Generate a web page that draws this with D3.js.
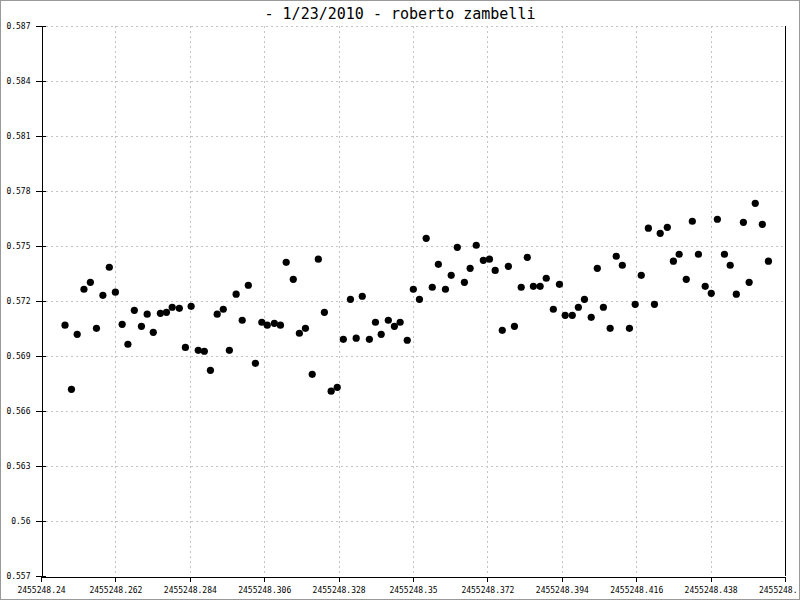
<!DOCTYPE html>
<html>
<head>
<meta charset="utf-8">
<script src="https://cdn.jsdelivr.net/npm/d3@7/dist/d3.min.js"></script>
<style>
  html, body { margin: 0; padding: 0; background: #fff; }
  svg { display: block; }
  text { font-family: "DejaVu Sans Mono", "Liberation Mono", monospace; fill: #000; }
</style>
</head>
<body>
<svg id="chart" width="800" height="600"></svg>
<script>
const title = "- 1/23/2010 - roberto zambelli";

const xTickValues = [2455248.24, 2455248.262, 2455248.284, 2455248.306, 2455248.328, 2455248.35,
  2455248.372, 2455248.394, 2455248.416, 2455248.438, 2455248.46];
const xTickLabels = ["2455248.24", "2455248.262", "2455248.284", "2455248.306", "2455248.328", "2455248.35",
  "2455248.372", "2455248.394", "2455248.416", "2455248.438", "2455248."];
const yTickValues = [0.557, 0.56, 0.563, 0.566, 0.569, 0.572, 0.575, 0.578, 0.581, 0.584, 0.587];
const yTickLabels = ["0.557", "0.56", "0.563", "0.566", "0.569", "0.572", "0.575", "0.578", "0.581", "0.584", "0.587"];

const jd = [
  2455248.2471, 2455248.2490, 2455248.2507, 2455248.2527, 2455248.2546, 2455248.2564, 2455248.2583, 2455248.2602,
  2455248.2620, 2455248.2640, 2455248.2657, 2455248.2676, 2455248.2697, 2455248.2714, 2455248.2732, 2455248.2753,
  2455248.2771, 2455248.2788, 2455248.2809, 2455248.2827, 2455248.2844, 2455248.2865, 2455248.2883, 2455248.2901,
  2455248.2921, 2455248.2939, 2455248.2957, 2455248.2977, 2455248.2995, 2455248.3013, 2455248.3034, 2455248.3053,
  2455248.3069, 2455248.3090, 2455248.3108, 2455248.3125, 2455248.3146, 2455248.3164, 2455248.3182, 2455248.3202,
  2455248.3220, 2455248.3238, 2455248.3258, 2455248.3276, 2455248.3294, 2455248.3315, 2455248.3332, 2455248.3350,
  2455248.3371, 2455248.3389, 2455248.3406, 2455248.3427, 2455248.3445, 2455248.3462, 2455248.3483, 2455248.3501,
  2455248.3519, 2455248.3539, 2455248.3557, 2455248.3575, 2455248.3596, 2455248.3613, 2455248.3631, 2455248.3652,
  2455248.3669, 2455248.3687, 2455248.3708, 2455248.3726, 2455248.3743, 2455248.3764, 2455248.3782, 2455248.3800,
  2455248.3820, 2455248.3838, 2455248.3856, 2455248.3876, 2455248.3894, 2455248.3915, 2455248.3933, 2455248.3950,
  2455248.3971, 2455248.3989, 2455248.4007, 2455248.4027, 2455248.4045, 2455248.4063, 2455248.4083, 2455248.4101,
  2455248.4119, 2455248.4140, 2455248.4157, 2455248.4175, 2455248.4196, 2455248.4214, 2455248.4231, 2455248.4252,
  2455248.4270, 2455248.4287, 2455248.4308, 2455248.4326, 2455248.4344, 2455248.4364, 2455248.4382, 2455248.4400,
  2455248.4421, 2455248.4438, 2455248.4456, 2455248.4477, 2455248.4494, 2455248.4512, 2455248.4533, 2455248.4551
];

const mag = [
  0.57068, 0.56718, 0.57018, 0.57264, 0.57302, 0.57051, 0.57231, 0.57384,
  0.57248, 0.57073, 0.56964, 0.57149, 0.57062, 0.57128, 0.57029, 0.57133,
  0.57138, 0.57166, 0.57160, 0.56947, 0.57171, 0.56931, 0.56926, 0.56822,
  0.57128, 0.57155, 0.56931, 0.57237, 0.57095, 0.57286, 0.56860, 0.57084,
  0.57068, 0.57078, 0.57068, 0.57411, 0.57318, 0.57024, 0.57051, 0.56800,
  0.57428, 0.57138, 0.56708, 0.56729, 0.56991, 0.57209, 0.56997, 0.57226,
  0.56991, 0.57084, 0.57018, 0.57095, 0.57062, 0.57084, 0.56986, 0.57264,
  0.57209, 0.57542, 0.57275, 0.57400, 0.57264, 0.57340, 0.57493, 0.57302,
  0.57378, 0.57504, 0.57422, 0.57428, 0.57367, 0.57040, 0.57389, 0.57062,
  0.57275, 0.57438, 0.57280, 0.57280, 0.57324, 0.57155, 0.57291, 0.57122,
  0.57122, 0.57166, 0.57209, 0.57111, 0.57378, 0.57166, 0.57051, 0.57444,
  0.57395, 0.57051, 0.57182, 0.57340, 0.57597, 0.57182, 0.57569, 0.57602,
  0.57417, 0.57455, 0.57318, 0.57635, 0.57455, 0.57280, 0.57242, 0.57646,
  0.57455, 0.57395, 0.57237, 0.57629, 0.57302, 0.57733, 0.57618, 0.57417
];

const W = 800, H = 600;
const plot = { left: 41, right: 785, top: 26, bottom: 576 };

const svg = d3.select("#chart");
svg.append("rect").attr("x", 0).attr("y", 0).attr("width", W).attr("height", H).attr("fill", "#fff");

const x = d3.scaleLinear().domain([xTickValues[0], xTickValues[xTickValues.length - 1]]).range([plot.left, plot.right]);
const y = d3.scaleLinear().domain([yTickValues[0], yTickValues[yTickValues.length - 1]]).range([plot.bottom, plot.top]);

// grid
const grid = svg.append("g").attr("stroke", "#c4c4c4").attr("stroke-width", 1).attr("stroke-dasharray", "2,3").attr("shape-rendering", "crispEdges");
grid.selectAll("line.v").data(xTickValues.slice(1, -1)).join("line")
  .attr("x1", d => Math.round(x(d)) + 0.5).attr("x2", d => Math.round(x(d)) + 0.5)
  .attr("y1", plot.top).attr("y2", plot.bottom);
grid.selectAll("line.h").data(yTickValues.slice(1)).join("line")
  .attr("y1", d => Math.round(y(d)) + 0.5).attr("y2", d => Math.round(y(d)) + 0.5)
  .attr("x1", plot.left).attr("x2", plot.right);

// x axis
const xAxis = d3.axisBottom(x).tickValues(xTickValues).tickSize(5).tickSizeOuter(0)
  .tickFormat((d, i) => xTickLabels[i]);
const gx = svg.append("g").attr("transform", `translate(0,${plot.bottom + 0.5})`).call(xAxis);
gx.select(".domain").attr("stroke", "#000").attr("shape-rendering", "crispEdges");
gx.selectAll(".tick line").attr("stroke", "#000").attr("shape-rendering", "crispEdges");
gx.selectAll(".tick text").attr("font-family", "'DejaVu Sans Mono', monospace").attr("font-size", 8).attr("dy", "1.0em").attr("fill", "#000");
// last label is truncated at the right edge in the original
gx.selectAll(".tick text").filter((d, i) => i === xTickValues.length - 1)
  .attr("text-anchor", "end").attr("x", 12);

// y axis
const yAxis = d3.axisLeft(y).tickValues(yTickValues).tickSize(6).tickSizeOuter(0)
  .tickFormat((d, i) => yTickLabels[i]);
const gy = svg.append("g").attr("transform", `translate(${plot.left + 0.5},0)`).call(yAxis);
gy.select(".domain").attr("stroke", "#000").attr("shape-rendering", "crispEdges");
gy.selectAll(".tick line").attr("stroke", "#000").attr("x2", -6).attr("x1", 4).attr("shape-rendering", "crispEdges");
gy.selectAll(".tick text").attr("font-family", "'DejaVu Sans Mono', monospace").attr("font-size", 8).attr("x", -11).attr("fill", "#000");

// right border line
svg.append("line").attr("x1", plot.right + 0.5).attr("x2", plot.right + 0.5)
  .attr("y1", plot.top).attr("y2", plot.bottom).attr("stroke", "#000").attr("shape-rendering", "crispEdges");

// points
svg.append("g").selectAll("circle").data(jd.map((d, i) => [d, mag[i]])).join("circle")
  .attr("cx", d => x(d[0])).attr("cy", d => y(d[1])).attr("r", 3.6).attr("fill", "#000");

// title
svg.append("text").attr("x", 400).attr("y", 19).attr("text-anchor", "middle")
  .attr("font-size", 15).text(title);

// outer border
svg.append("rect").attr("x", 0.5).attr("y", 0.5).attr("width", W - 1).attr("height", H - 1)
  .attr("fill", "none").attr("stroke", "#999").attr("stroke-width", 1);
</script>
</body>
</html>
